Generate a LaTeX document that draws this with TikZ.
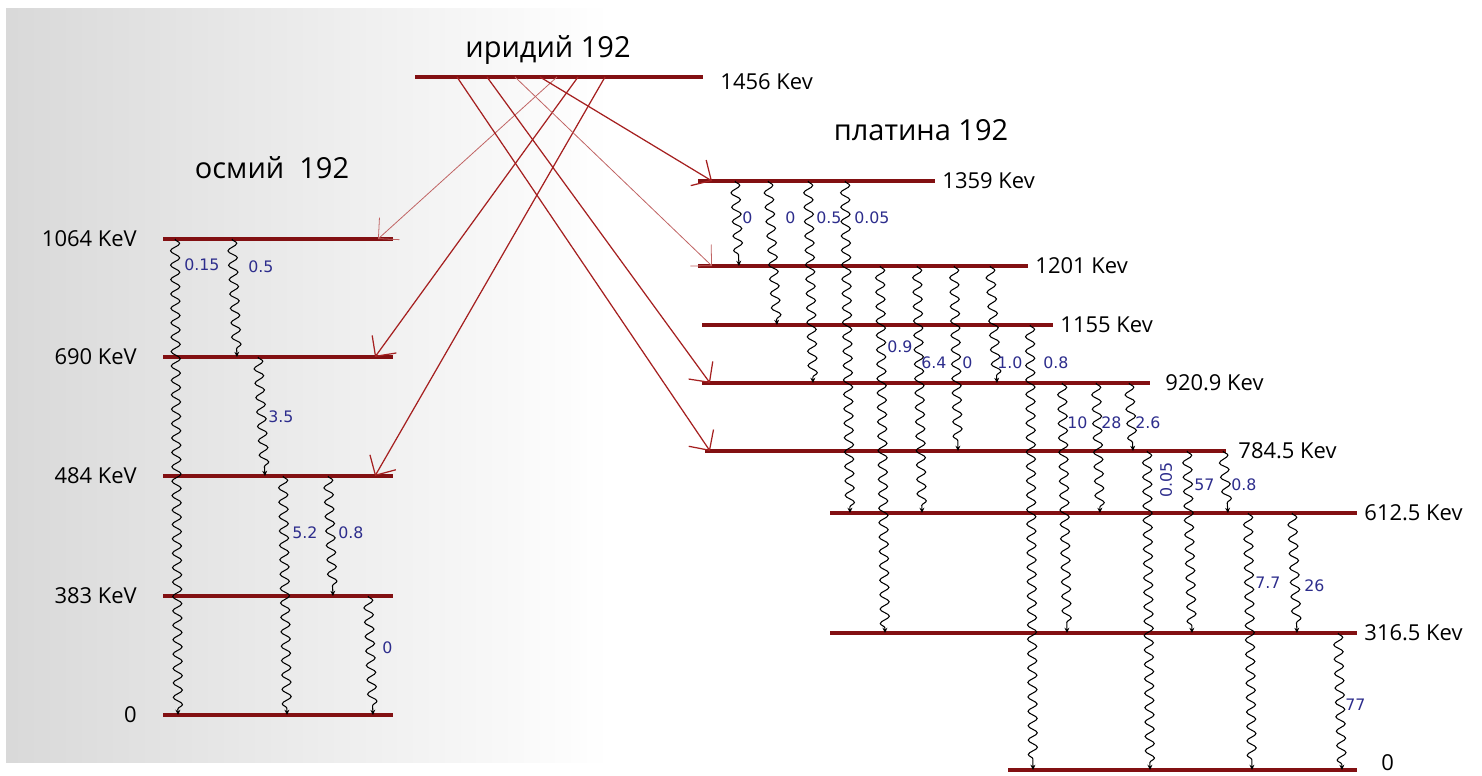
\documentclass[tikz,border=0pt]{standalone}
\usepackage{fontspec}
\setmainfont{Open Sans}
\newfontfamily\numfont{DejaVu Sans}
\usetikzlibrary{arrows.meta,decorations.pathmorphing,positioning}

\definecolor{lvlred}{RGB}{130,16,18}
\definecolor{betared}{RGB}{165,32,32}
\definecolor{intblue}{RGB}{45,45,140}

\begin{document}
\begin{tikzpicture}[x=0.02cm, y=-0.02cm,
    level/.style={draw=lvlred, line width=1.8pt},
    beta/.style={draw=betared, line width=0.7pt, -{Straight Barb[length=8.5pt, width=17pt]}},
    faintbeta/.style={beta, draw=betared!70, line width=0.45pt},
    gam/.style={draw=black, line width=0.6pt, decorate, decoration={snake, amplitude=2.6pt, segment length=8.2pt, post length=2.5pt}, -{Stealth[length=3pt, width=2.8pt]}},
    elabel/.style={font=\fontsize{12.5}{14}\selectfont},
    title/.style={font=\fontsize{16.5}{19}\selectfont},
    int/.style={text=intblue, font=\numfont\fontsize{9}{10}\selectfont, anchor=west, inner sep=1pt},
  ]
  \useasboundingbox (0,0) rectangle (1482,775);
  \fill[white] (0,0) rectangle (1482,775);
  \shade[left color=black!15, right color=white] (6,8) rectangle (610,762);

  \node[title] (tir) at (548,50) {иридий 192};
  \node[title] (tos) at (272,168) {осмий\ \ 192};
  \node[title] (tpt) at (921,130) {платина 192};

  \draw[level] (415,77) coordinate (ir) -- (703,77) node[elabel, right=0.2cm, yshift=-2.5pt] (lir) {1456 Kev};

  \draw[level] (163,239) coordinate (os1064) -- (393,239);
  \draw[level] (163,357) coordinate (os690) -- (393,357);
  \draw[level] (163,476) coordinate (os484) -- (393,476);
  \draw[level] (163,596) coordinate (os383) -- (393,596);
  \draw[level] (163,715) coordinate (os0) -- (393,715);
  \node[elabel, left=0.4cm of os1064] (l1064) {1064 KeV};
  \node[elabel, left=0.4cm of os690] (l690) {690 KeV};
  \node[elabel, left=0.4cm of os484] (l484) {484 KeV};
  \node[elabel, left=0.4cm of os383] (l383) {383 KeV};
  \node[elabel, left=0.4cm of os0] (los0) {0};

  \draw[level] (698,181) coordinate (pt1359) -- (935,181) node[elabel, right] (l1359) {1359 Kev};
  \draw[level] (698,266) coordinate (pt1201) -- (1028,266) node[elabel, right] (l1201) {1201 Kev};
  \draw[level] (702,325) coordinate (pt1155) -- (1053,325) node[elabel, right] (l1155) {1155 Kev};
  \draw[level] (702,383) coordinate (pt920) -- (1150,383) node[elabel, right=0.16cm] (l920) {920.9 Kev};
  \draw[level] (705,451) coordinate (pt784) -- (1226,451) node[elabel, right=0.1cm] (l784) {784.5 Kev};
  \draw[level] (830,513) coordinate (pt612) -- (1357,513) node[elabel, right] (l612) {612.5 Kev};
  \draw[level] (830,633) coordinate (pt316) -- (1357,633) node[elabel, right] (l316) {316.5 Kev};
  \draw[level] (1008,770) coordinate (pt0) -- (1357,770) node[elabel, right=0.34cm, yshift=4pt] (lpt0) {0};

  \draw[faintbeta] (557,0 |- ir) -- (378,0 |- os1064);
  \draw[beta] (578,0 |- ir) -- (375,0 |- os690);
  \draw[beta] (605,0 |- ir) -- (375,0 |- os484);
  \draw[beta] (540,0 |- ir) -- (712,0 |- pt1359);
  \draw[faintbeta] (515,0 |- ir) -- (712,0 |- pt1201);
  \draw[beta] (487,0 |- ir) -- (710,0 |- pt920);
  \draw[beta] (457,0 |- ir) -- (710,0 |- pt784);

  \draw[gam] (175,0 |- os1064) -- (178,0 |- os0) node[int] (g1) at (182,265) {0.15};
  \draw[gam] (232,0 |- os1064) -- (237,0 |- os690) node[int] (g2) at (246,267) {0.5};
  \draw[gam] (258,0 |- os690) -- (265,0 |- os484) node[int] (g3) at (266,417) {3.5};
  \draw[gam] (283,0 |- os484) -- (287,0 |- os0) node[int] (g4) at (290,533) {5.2};
  \draw[gam] (328,0 |- os484) -- (333,0 |- os383) node[int] (g5) at (336,533) {0.8};
  \draw[gam] (368,0 |- os383) -- (373,0 |- os0) node[int] (g6) at (380,648) {0};

  \draw[gam] (735,0 |- pt1359) -- (739,0 |- pt1201) node[int] (g7) at (740,218) {0};
  \draw[gam] (768,0 |- pt1359) -- (777,0 |- pt1155) node[int] (g8) at (783,218) {0};
  \draw[gam] (808,0 |- pt1359) -- (813,0 |- pt920) node[int] (g9) at (814,218) {0.5};
  \draw[gam] (845,0 |- pt1359) -- (850,0 |- pt612) node[int] (g10) at (852,218) {0.05};
  \draw[gam] (880,0 |- pt1201) -- (885,0 |- pt316) node[int] (g11) at (885,347) {0.9};
  \draw[gam] (917,0 |- pt1201) -- (922,0 |- pt612) node[int] (g12) at (919,363) {6.4};
  \draw[gam] (954,0 |- pt1201) -- (958,0 |- pt784) node[int] (g13) at (960,363) {0};
  \draw[gam] (990,0 |- pt1201) -- (997,0 |- pt920) node[int] (g14) at (995,363) {1.0};
  \draw[gam] (1030,0 |- pt1155) -- (1033,0 |- pt0) node[int] (g15) at (1041,363) {0.8};
  \draw[gam] (1062,0 |- pt920) -- (1067,0 |- pt316) node[int] (g16) at (1065,423) {10};
  \draw[gam] (1096,0 |- pt920) -- (1100,0 |- pt612) node[int] (g17) at (1099,423) {28};
  \draw[gam] (1129,0 |- pt920) -- (1133,0 |- pt784) node[int] (g18) at (1133,423) {2.6};
  \draw[gam] (1147,0 |- pt784) -- (1150,0 |- pt0) node[int, rotate=90, anchor=center] (g19) at (1166,480) {0.05};
  \draw[gam] (1187,0 |- pt784) -- (1192,0 |- pt316) node[int] (g20) at (1192,485) {57};
  \draw[gam] (1223,0 |- pt784) -- (1228,0 |- pt612) node[int] (g21) at (1229,485) {0.8};
  \draw[gam] (1248,0 |- pt612) -- (1252,0 |- pt0) node[int] (g22) at (1253,583) {7.7};
  \draw[gam] (1292,0 |- pt612) -- (1297,0 |- pt316) node[int] (g23) at (1302,586) {26};
  \draw[gam] (1338,0 |- pt316) -- (1342,0 |- pt0) node[int] (g24) at (1343,705) {77};
\end{tikzpicture}
\end{document}
